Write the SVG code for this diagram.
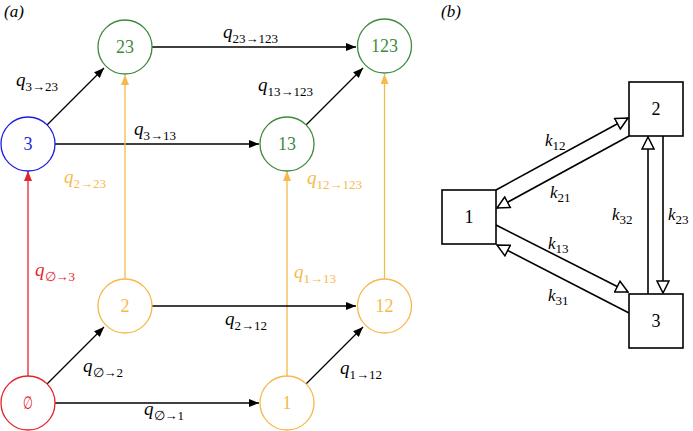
<svg xmlns="http://www.w3.org/2000/svg" width="693" height="431" viewBox="0 0 693 431" font-family="'Liberation Serif', 'DejaVu Serif', serif">
<style>
text, tspan{font-family:'Liberation Serif','DejaVu Serif',serif;}
.q{font-size:19px;font-style:italic;}
.s{font-size:13px;font-style:normal;}
.n{font-size:18px;text-anchor:middle;}
.nb{font-size:18px;text-anchor:middle;}
.lab{font-size:17px;font-style:italic;}
.c{fill:none;stroke-width:1.3;}
.g{stroke:#3f8a3f;}
.gt{fill:#3f8a3f;}
.bl{stroke:#1e1ee0;}
.blt{fill:#1e1ee0;}
.r{stroke:#e3242b;}
.rt{fill:#e3242b;}
.o{stroke:#f6b94c;}
.ot{fill:#f6b94c;}
.e{fill:none;stroke-width:1.3;}
.k{stroke:#000;}
.box{fill:#fff;stroke:#000;stroke-width:1.6;}
.eb{fill:none;stroke:#000;stroke-width:1.6;marker-end:url(#hol);}
</style>
<defs>
<marker id="ak" viewBox="0 0 10 8" refX="10" refY="4" markerWidth="10" markerHeight="8" markerUnits="userSpaceOnUse" orient="auto"><path d="M0,0L10,4L0,8z" fill="#000"/></marker>
<marker id="ar" viewBox="0 0 10 8" refX="10" refY="4" markerWidth="10" markerHeight="8" markerUnits="userSpaceOnUse" orient="auto"><path d="M0,0L10,4L0,8z" fill="#e3242b"/></marker>
<marker id="ao" viewBox="0 0 10 8" refX="10" refY="4" markerWidth="10" markerHeight="8" markerUnits="userSpaceOnUse" orient="auto"><path d="M0,0L10,4L0,8z" fill="#f6b94c"/></marker>
<marker id="hol" viewBox="-1 -1 14 14" refX="12" refY="6" markerWidth="14" markerHeight="14" markerUnits="userSpaceOnUse" orient="auto"><path d="M0,0L12,6L0,12z" fill="#fff" stroke="#000" stroke-width="1.5"/></marker>
</defs>
<rect width="693" height="431" fill="#fff"/>
<text x="4" y="17" style="font-size:17px;font-style:italic">(a)</text>
<text x="441" y="17" style="font-size:17px;font-style:italic">(b)</text>
<g id="connectors">
<line class="e k" x1="47" y1="125" x2="104" y2="68" marker-end="url(#ak)"/>
<line class="e k" x1="152" y1="47" x2="356" y2="47" marker-end="url(#ak)"/>
<line class="e k" x1="55" y1="144" x2="259" y2="144" marker-end="url(#ak)"/>
<line class="e k" x1="306" y1="125" x2="363" y2="68" marker-end="url(#ak)"/>
<line class="e r" x1="28" y1="376" x2="28" y2="171" marker-end="url(#ar)"/>
<line class="e o" x1="125" y1="279" x2="125" y2="75" marker-end="url(#ao)"/>
<line class="e o" x1="287" y1="376" x2="287" y2="171" marker-end="url(#ao)"/>
<line class="e o" x1="384.5" y1="279" x2="384.5" y2="74" marker-end="url(#ao)"/>
<line class="e k" x1="47" y1="384" x2="104" y2="327" marker-end="url(#ak)"/>
<line class="e k" x1="152" y1="306" x2="356" y2="306" marker-end="url(#ak)"/>
<line class="e k" x1="55" y1="403" x2="259" y2="403" marker-end="url(#ak)"/>
<line class="e k" x1="306" y1="384" x2="363" y2="327" marker-end="url(#ak)"/>
<line class="eb" x1="496" y1="190" x2="628" y2="118"/>
<line class="eb" x1="629" y1="136" x2="497" y2="208"/>
<line class="eb" x1="496" y1="225" x2="628" y2="292"/>
<line class="eb" x1="629" y1="313" x2="497" y2="245"/>
<line class="eb" x1="648" y1="294" x2="648" y2="137"/>
<line class="eb" x1="663" y1="136" x2="663" y2="293"/>
</g>
<g id="edge-labels">
<text class="q" x="16" y="86">q<tspan class="s" dy="5">3→23</tspan></text>
<text class="q" x="223" y="38">q<tspan class="s" dy="5">23→123</tspan></text>
<text class="q" x="134" y="135">q<tspan class="s" dy="5">3→13</tspan></text>
<text class="q" x="258" y="91">q<tspan class="s" dy="5">13→123</tspan></text>
<text class="q" x="64" y="183" fill="#f6b94c">q<tspan class="s" dy="5">2→23</tspan></text>
<text class="q" x="307" y="184" fill="#f6b94c">q<tspan class="s" dy="5">12→123</tspan></text>
<text class="q" x="35" y="276" fill="#e3242b">q<tspan class="s" dy="5">∅→3</tspan></text>
<text class="q" x="294" y="278" fill="#f6b94c">q<tspan class="s" dy="5">1→13</tspan></text>
<text class="q" x="225" y="325">q<tspan class="s" dy="5">2→12</tspan></text>
<text class="q" x="83" y="372">q<tspan class="s" dy="5">∅→2</tspan></text>
<text class="q" x="340" y="374">q<tspan class="s" dy="5">1→12</tspan></text>
<text class="q" x="144" y="415">q<tspan class="s" dy="5">∅→1</tspan></text>
<text class="lab" x="545" y="146">k<tspan class="s" dy="4">12</tspan></text>
<text class="lab" x="550" y="198">k<tspan class="s" dy="4">21</tspan></text>
<text class="lab" x="612" y="220">k<tspan class="s" dy="4">32</tspan></text>
<text class="lab" x="668" y="220">k<tspan class="s" dy="4">23</tspan></text>
<text class="lab" x="548" y="249">k<tspan class="s" dy="4">13</tspan></text>
<text class="lab" x="548" y="301">k<tspan class="s" dy="4">31</tspan></text>
</g>
<g id="n-empty"><circle class="c r" cx="28" cy="403" r="27"/><text class="n rt" x="28" y="409" textLength="10" lengthAdjust="spacingAndGlyphs">∅</text></g>
<g id="n-1"><circle class="c o" cx="287" cy="403" r="27"/><text class="n ot" x="287" y="409">1</text></g>
<g id="n-2"><circle class="c o" cx="125" cy="306" r="27"/><text class="n ot" x="125" y="312">2</text></g>
<g id="n-12"><circle class="c o" cx="384.5" cy="306" r="27"/><text class="n ot" x="384.5" y="312">12</text></g>
<g id="n-3"><circle class="c bl" cx="28" cy="144" r="27"/><text class="n blt" x="28" y="150">3</text></g>
<g id="n-13"><circle class="c g" cx="287" cy="144" r="27"/><text class="n gt" x="287" y="150">13</text></g>
<g id="n-23"><circle class="c g" cx="125" cy="47" r="27"/><text class="n gt" x="125" y="53">23</text></g>
<g id="n-123"><circle class="c g" cx="384.5" cy="46" r="27"/><text class="n gt" x="384.5" y="52">123</text></g>
<g id="b-1"><rect class="box" x="442" y="190" width="54" height="54"/><text class="nb" x="469" y="223">1</text></g>
<g id="b-2"><rect class="box" x="629" y="82" width="54" height="54"/><text class="nb" x="656" y="115">2</text></g>
<g id="b-3"><rect class="box" x="629" y="294" width="54" height="54"/><text class="nb" x="656" y="327">3</text></g>
</svg>
